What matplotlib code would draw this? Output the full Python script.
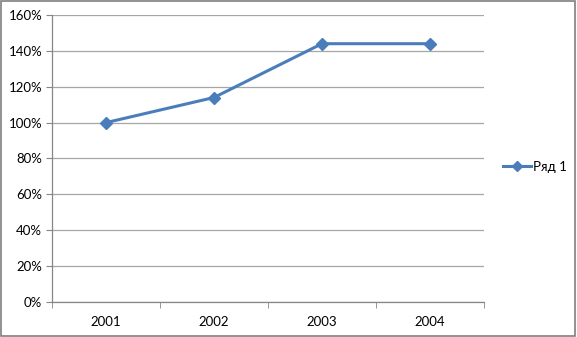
import matplotlib.pyplot as plt
from matplotlib.ticker import FuncFormatter, FixedLocator

years = ['2001', '2002', '2003', '2004']
values = [100, 114, 144, 144]
series_name = 'Ряд 1'

plt.rcParams['font.family'] = ['Lato', 'DejaVu Sans']

fig = plt.figure(figsize=(5.77, 3.37), dpi=100)
ax = fig.add_axes([0.0901, 0.1039, 0.7487, 0.8516])

color = '#4A7EBB'
x = list(range(len(years)))
ax.plot(x, values, color=color, lw=2.2, marker='D', markersize=6.5,
        label=series_name)

ax.set_xlim(-0.5, len(years) - 0.5)
ax.set_ylim(0, 160)
ax.set_yticks(range(0, 161, 20))
ax.yaxis.set_major_formatter(FuncFormatter(lambda v, p: f'{int(v)}%'))
ax.set_xticks(x)
ax.set_xticklabels(years)
ax.xaxis.set_minor_locator(FixedLocator([i - 0.5 for i in range(len(years) + 1)]))
ax.tick_params(axis='x', which='major', length=0, pad=10, labelsize=9.5)
ax.tick_params(axis='x', which='minor', length=4, color='#868686', direction='out')
ax.tick_params(axis='y', length=4, color='#868686', labelsize=9.5, pad=3)

ax.grid(axis='y', color='#A6A6A6', lw=0.9)
ax.set_axisbelow(True)
for s in ['top', 'right']:
    ax.spines[s].set_visible(False)
for s in ['left', 'bottom']:
    ax.spines[s].set_color('#868686')
    ax.spines[s].set_linewidth(0.9)

ax.legend(loc='center left', bbox_to_anchor=(1.045, 0.47), frameon=False,
          borderaxespad=0, borderpad=0, fontsize=9.5, handlelength=2.1,
          handletextpad=0.15, markerscale=0.8)

fig.patches.append(plt.Rectangle((0.002, 0.003), 0.995, 0.993, transform=fig.transFigure,
                                 fill=False, edgecolor='#7F7F7F', lw=1.2))

fig.savefig('out.png', dpi=100)
